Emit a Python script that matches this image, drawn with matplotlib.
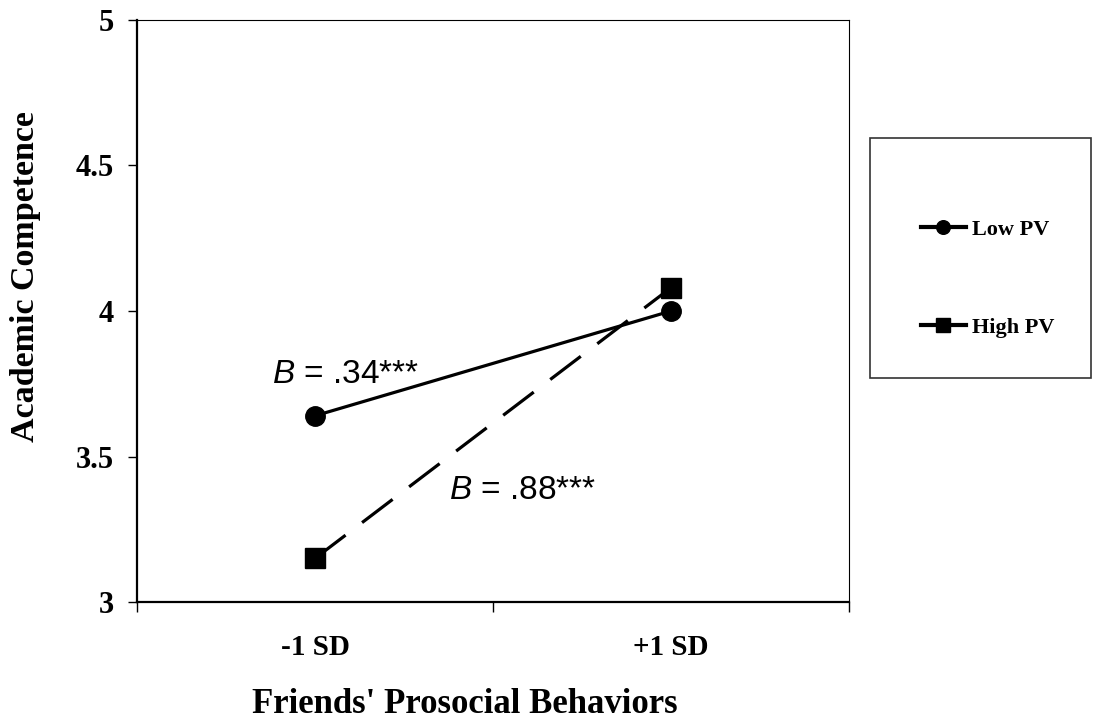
import matplotlib
matplotlib.use("Agg")
import matplotlib.pyplot as plt
from matplotlib.patches import Rectangle
import numpy as np

# data
categorias = ["-1 SD", "+1 SD"]
low_pv = [3.64, 4.00]
high_pv = [3.15, 4.08]
series_nomes = ["Low PV", "High PV"]
anot_textos = ["$\\mathit{B}$ = .34***", "$\\mathit{B}$ = .88***"]
anot_pos = [(0.38, 3.753), (0.875, 3.355)]

serif = ["Liberation Serif", "DejaVu Serif"]
plt.rcParams["mathtext.fontset"] = "custom"
plt.rcParams["mathtext.it"] = "Liberation Sans:italic"
plt.rcParams["mathtext.rm"] = "Liberation Sans"

fig = plt.figure(figsize=(10.99, 7.19), dpi=100)
ax = fig.add_axes([0.1247, 0.1627, 0.6478, 0.8095])

x = np.arange(len(categorias)) + 0.5
ax.plot(x, low_pv, color="black", lw=2.3, marker="o", ms=14, label=series_nomes[0])
ax.plot(x, high_pv, color="black", lw=2.3, marker="s", ms=14,
        dashes=(12, 6.5), label=series_nomes[1])

for txt, (tx, ty) in zip(anot_textos, anot_pos):
    ax.text(tx, ty, txt, fontsize=24, family="Liberation Sans", ha="left", va="baseline")

ax.set_xlim(0, 2)
ax.set_ylim(3, 5)
ax.set_yticks([3, 3.5, 4, 4.5, 5])
ax.set_yticklabels(["3", "3.5", "4", "4.5", "5"], fontsize=22, fontweight="bold", family=serif)
ax.set_xticks(x)
ax.set_xticklabels(categorias, fontsize=21, fontweight="bold", family=serif)
ax.set_xticks([0, 1, 2], minor=True)
ax.tick_params(axis="x", which="major", length=0, pad=23)
ax.tick_params(axis="x", which="minor", length=7, width=1, direction="out")
ax.tick_params(axis="y", length=6.5, width=1, direction="out", pad=10)

for s in ["left", "bottom"]:
    ax.spines[s].set_linewidth(1.6)
for s in ["top", "right"]:
    ax.spines[s].set_linewidth(0.8)

ax.set_ylabel("Academic Competence", fontsize=24.5, fontweight="bold", family=serif)
ax.yaxis.set_label_coords(-0.135, 0.56)
ax.set_xlabel("Friends' Prosocial Behaviors", fontsize=25, fontweight="bold", family=serif)
ax.xaxis.set_label_coords(0.461, -0.147)

# caixa da legenda
fig.patches.append(Rectangle((0.7916, 0.4743), 0.2011, 0.3338, transform=fig.transFigure,
                             fill=False, edgecolor="#333333", lw=1.2))
h, l = ax.get_legend_handles_labels()
leg = fig.legend(h, l, loc="center left", bbox_to_anchor=(0.828, 0.6125), frameon=False,
                 prop={"family": serif, "weight": "bold", "size": 16},
                 handlelength=2.0, handletextpad=0.3, labelspacing=3.5,
                 borderpad=0, markerscale=0.7)
for ln in leg.get_lines():
    ln.set_linestyle("-")
    ln.set_linewidth(3)

fig.savefig("out.png", dpi=100)
